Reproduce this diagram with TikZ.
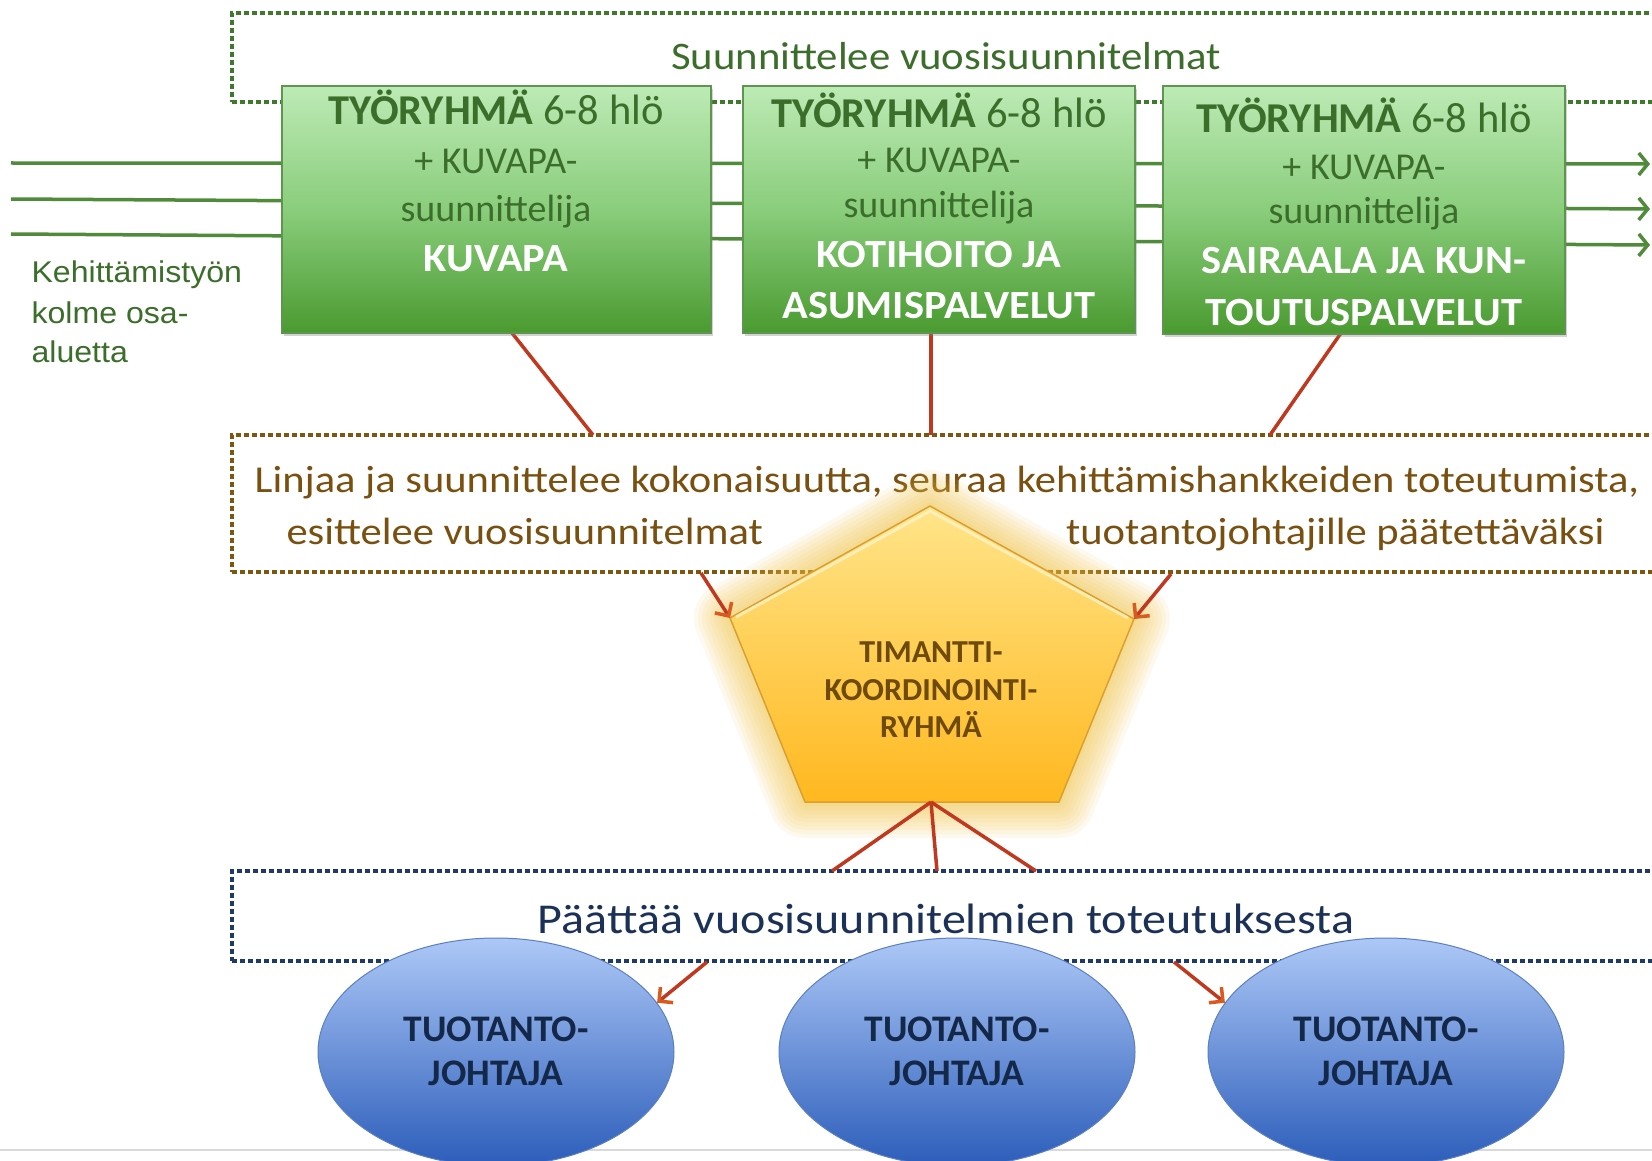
\documentclass[tikz,border=0pt]{standalone}
\usepackage{fontspec}
\setmainfont{Carlito}
\newfontfamily\arialf[FakeStretch=1.07]{Liberation Sans}
\newfontfamily\topf[FakeStretch=1.096]{Carlito}
\newfontfamily\brownf[FakeStretch=1.12]{Carlito}
\newfontfamily\bluef[FakeStretch=1.13]{Carlito}
\newfontfamily\namef[FakeStretch=1.06]{Carlito}
\usetikzlibrary{arrows.meta,shapes.geometric,shadows,calc}
\definecolor{grntxt}{HTML}{3C6E2B}
\definecolor{grnline}{HTML}{4F8B3B}
\definecolor{grndot}{HTML}{3F7A2C}
\definecolor{gtop}{HTML}{BDEAB5}
\definecolor{gmid}{HTML}{8ACD7C}
\definecolor{gbot}{HTML}{4A9A30}
\definecolor{gedge}{HTML}{5E9650}
\definecolor{brdot}{HTML}{7F560F}
\definecolor{brtxt}{HTML}{7A5010}
\definecolor{navy}{HTML}{1F3A68}
\definecolor{navytxt}{HTML}{1C3157}
\definecolor{redc}{HTML}{C0391F}
\definecolor{arrc}{HTML}{D95A1E}
\definecolor{ptop}{HTML}{FFE58A}
\definecolor{pbot}{HTML}{FFB81F}
\definecolor{pedge}{HTML}{D9A030}
\definecolor{ptxt}{HTML}{6E4A0C}
\definecolor{glowc}{HTML}{F2C440}
\definecolor{etop}{HTML}{ADC8F7}
\definecolor{ebot}{HTML}{2C5DBA}
\definecolor{eedge}{HTML}{5C7FC0}
\definecolor{etxt}{HTML}{14284A}
\newcommand\myfz[1]{\fontsize{#1}{#1}\selectfont}
\begin{document}
\begin{tikzpicture}[x=1pt,y=-1pt,
  dotbox/.style={draw, line width=4, dash pattern=on 5pt off 3pt, minimum width=1500, anchor=north west, outer sep=0, inner sep=0},
  gbox/.style={anchor=north west, outer sep=0, inner sep=0, draw=gedge, line width=1.2, top color=gtop, bottom color=gbot, middle color=gmid, drop shadow={shadow xshift=2pt, shadow yshift=-3pt, opacity=0.35}},
  ttl/.style={anchor=base, text=grntxt, font=\myfz{42.5}},
  sub/.style={anchor=base, text=grntxt, font=\myfz{38}},
  nm/.style={anchor=base, text=white, font=\namef\myfz{40}\bfseries},
  brt/.style={anchor=base, text=brtxt, font=\brownf\myfz{38}},
  redl/.style={draw=redc, line width=3.5},
  redarr/.style={redl, -{Straight Barb[length=10pt,width=20pt,color=arrc]}},
  grl/.style={draw=grnline, line width=3.5},
  ell/.style={ellipse, draw=eedge, line width=1, top color=etop, bottom color=ebot, minimum width=356, minimum height=228, inner sep=0},
  etx/.style={anchor=base, text=etxt, font=\myfz{37.5}\bfseries},
  ptx/.style={anchor=base, text=ptxt, font=\myfz{32}\bfseries},
  ket/.style={anchor=base west, text=grntxt, font=\arialf\myfz{30}}
]
\clip (0,0) rectangle (1652,1161);
\fill[white] (0,0) rectangle (1652,1161);
\draw[black!15, line width=1.5] (0,1150) -- (1652,1150);

% top green dotted box
\node[dotbox, draw=grndot, minimum height=89] (topbox) at (232,13) {};
\node[anchor=base, text=grntxt, font=\topf\myfz{39}] (toptxt) at (946,70) {Suunnittelee vuosisuunnitelmat};

% long green lines
\coordinate (gl1s) at (11,163); \coordinate (gl1e) at (1650,164);
\coordinate (gl2s) at (11,199); \coordinate (gl2e) at (1650,209);
\coordinate (gl3s) at (11,234); \coordinate (gl3e) at (1650,245);
\draw[grl, -{Straight Barb[length=9pt,width=22pt]}] (gl1s) -- (gl1e);
\draw[grl, -{Straight Barb[length=9pt,width=22pt]}] (gl2s) -- (gl2e);
\draw[grl, -{Straight Barb[length=9pt,width=22pt]}] (gl3s) -- (gl3e);

\node[ket] (k1) at (28,283) {Kehittämistyön};
\node[ket] (k2) at (28,323) {kolme osa-};
\node[ket] (k3) at (28,362) {aluetta};

% brown dotted box
\node[dotbox, draw=brdot, minimum height=137] (brownbox) at (232,435) {};

% red lines boxes -> brown box
\coordinate (r1a) at (512,333); \coordinate (r1b) at (593,435);
\coordinate (r2a) at (931,333); \coordinate (r2b) at (931,435);
\coordinate (r3a) at (1341,333); \coordinate (r3b) at (1270,435);
\draw[redl] (r1a) -- (r1b);
\draw[redl] (r2a) -- (r2b);
\draw[redl] (r3a) -- (r3b);

% green boxes
\node[gbox, minimum width=429, minimum height=247] (box1) at (282,86) {};
\node[gbox, minimum width=392, minimum height=247] (box2) at (743,86) {};
\node[gbox, minimum width=402, minimum height=248] (box3) at (1163,86) {};

\node[ttl] (b1t1) at (496,125) {\textbf{TYÖRYHMÄ} 6-8 hlö};
\node[sub] (b1t2) at (496,174) {+ KUVAPA-};
\node[sub] (b1t3) at (496,222) {suunnittelija};
\node[nm] (b1t4) at (496,271) {KUVAPA};

\node[ttl] (b2t1) at (939,128) {\textbf{TYÖRYHMÄ} 6-8 hlö};
\node[sub] (b2t2) at (939,173) {+ KUVAPA-};
\node[sub] (b2t3) at (939,218) {suunnittelija};
\node[nm] (b2t4) at (939,268) {KOTIHOITO JA};
\node[nm] (b2t5) at (939,318) {ASUMISPALVELUT};

\node[ttl] (b3t1) at (1364,133) {\textbf{TYÖRYHMÄ} 6-8 hlö};
\node[sub] (b3t2) at (1364,180) {+ KUVAPA-};
\node[sub] (b3t3) at (1364,224) {suunnittelija};
\node[nm] (b3t4) at (1364,273) {SAIRAALA JA KUN-};
\node[nm] (b3t5) at (1364,325) {TOUTUSPALVELUT};

% brown texts
\node[brt] (br1) at (947,492) {Linjaa ja suunnittelee kokonaisuutta, seuraa kehittämishankkeiden toteutumista,};
\node[brt, anchor=base west] (br2) at (283,544) {esittelee vuosisuunnitelmat};
\node[brt, anchor=base east] (br3) at (1608,544) {tuotantojohtajille päätettäväksi};

% pentagon
\coordinate (pT) at (930,506);
\coordinate (pL) at (730,618);
\coordinate (pBL) at (805,802);
\coordinate (pBR) at (1059,802);
\coordinate (pR) at (1134,619);
\coordinate (pB) at (931,802);
\foreach \w in {72,64,56,48,40,32,24,16,8}
  \draw[glowc, line width=\w, opacity=0.085, line join=round] (pT)--(pL)--(pBL)--(pBR)--(pR)--cycle;
\shade[top color=ptop, bottom color=pbot] (pT)--(pL)--(pBL)--(pBR)--(pR)--cycle;
\draw[pedge, line width=1.5, line join=round] (pT)--(pL)--(pBL)--(pBR)--(pR)--cycle;
\draw[white!60!ptop, line width=3, opacity=0.7] ($(pL)+(6,-1)$) -- ($(pT)+(0,5)$) -- ($(pR)+(-6,-1)$);
\node[ptx] (pt1) at (931,662) {TIMANTTI-};
\node[ptx] (pt2) at (931,700) {KOORDINOINTI-};
\node[ptx] (pt3) at (931,737) {RYHMÄ};

% arrows brown box -> pentagon
\coordinate (a1s) at (701,573);
\coordinate (a2s) at (1171,574);
\draw[redarr] (a1s) -- (pL);
\draw[redarr] (a2s) -- (pR);

% blue dotted box
\node[dotbox, draw=navy, minimum height=90] (bluebox) at (232,871) {};
\node[anchor=base, text=navytxt, font=\bluef\myfz{42.5}] (bltxt) at (946,933) {Päättää vuosisuunnitelmien toteutuksesta};

% lines pentagon -> blue box
\coordinate (q1) at (832,871);
\coordinate (q2) at (937,871);
\coordinate (q3) at (1036,871);
\draw[redl] (pB) -- (q1);
\draw[redl] (pB) -- (q2);
\draw[redl] (pB) -- (q3);

% ellipses
\node[ell] (ell1) at (496,1052) {};
\node[ell] (ell2) at (957,1052) {};
\node[ell] (ell3) at (1386,1052) {};
\node[etx] (e1a) at (496,1041) {TUOTANTO-};
\node[etx] (e1b) at (496,1085) {JOHTAJA};
\node[etx] (e2a) at (957,1041) {TUOTANTO-};
\node[etx] (e2b) at (957,1085) {JOHTAJA};
\node[etx] (e3a) at (1386,1041) {TUOTANTO-};
\node[etx] (e3b) at (1386,1085) {JOHTAJA};

\coordinate (c1s) at (707,962);
\coordinate (c3s) at (1174,962);
\draw[redarr] (c1s) -- (ell1.17);
\draw[redarr] (c3s) -- (ell3.163);
\end{tikzpicture}
\end{document}
